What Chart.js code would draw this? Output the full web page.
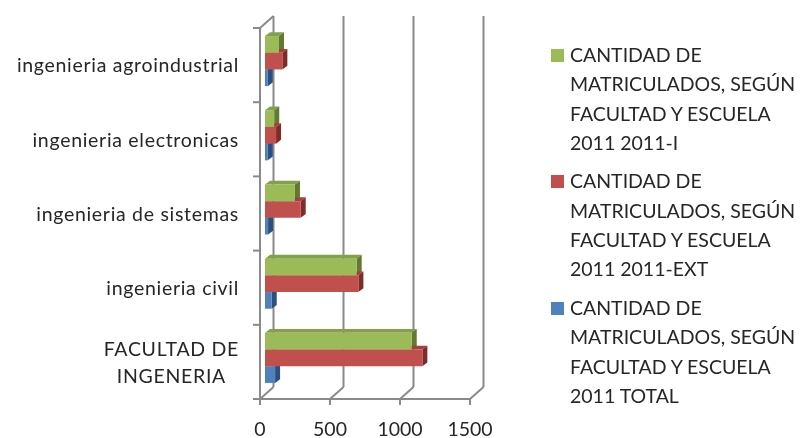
<!DOCTYPE html>
<html>
<head>
<meta charset="utf-8">
<script src="https://cdn.jsdelivr.net/npm/chart.js@4/dist/chart.umd.min.js"></script>
<style>
  html, body { margin: 0; padding: 0; background: #ffffff; }
  #wrap { position: relative; width: 801px; height: 438px; overflow: hidden; }
  #chart { position: absolute; left: 0; top: 0; }
  #legend { position: absolute; left: 551px; top: 40px; font-family: Lato, "Noto Sans", sans-serif;
            font-size: 19.5px; color: #262626; }
  .item { position: relative; padding-left: 19px; margin-bottom: 9.3px; }
  .sw { position: absolute; left: 0; top: 9px; width: 13px; height: 13px; }
  .ln { line-height: 29.3px; height: 29.3px; white-space: nowrap; }
</style>
</head>
<body>
<div id="wrap">
  <canvas id="chart" width="801" height="438"></canvas>
  <div id="legend"></div>
</div>
<script>
// Enrolment by faculty and school, 2011
const categories = [
  ['FACULTAD DE', 'INGENERIA'],
  'ingenieria civil',
  'ingenieria de sistemas',
  'ingenieria electronicas',
  'ingenieria agroindustrial'
];
const values2011I   = [1048, 655, 214, 66, 100];
const values2011EXT = [1124, 667, 255, 79, 124];
const valuesTotal   = [72, 48, 22, 20, 20];
const seriesNames = [
  ['CANTIDAD DE', 'MATRICULADOS, SEGÚN', 'FACULTAD Y ESCUELA', '2011 2011-I'],
  ['CANTIDAD DE', 'MATRICULADOS, SEGÚN', 'FACULTAD Y ESCUELA', '2011 2011-EXT'],
  ['CANTIDAD DE', 'MATRICULADOS, SEGÚN', 'FACULTAD Y ESCUELA', '2011 TOTAL']
];
const xTicks = [0, 500, 1000, 1500];

// face colours: front, top, side
const palette = [
  { front: '#9bbb59', top: '#83a149', side: '#62792f' },
  { front: '#c0504d', top: '#a3403d', side: '#7e2b29' },
  { front: '#4f81bd', top: '#3e6ba3', side: '#2b4f7e' }
];

const FONT = 'Lato, "Noto Sans", sans-serif';
const TEXT = '#262626';
const FRAME = '#8a8a8a';

// box depth (front edge -> back wall) and the slab the bars occupy inside it
const BOX = { dx: 13.5, dy: -12 };
const BAR_SHIFT = { dx: 5, dy: -4 };
const BAR_DEPTH = { dx: 5, dy: -3.8 };

function line(ctx, x1, y1, x2, y2) {
  ctx.beginPath();
  ctx.moveTo(x1, y1);
  ctx.lineTo(x2, y2);
  ctx.stroke();
}
function poly(ctx, pts, color) {
  ctx.beginPath();
  ctx.moveTo(pts[0][0], pts[0][1]);
  for (let i = 1; i < pts.length; i++) ctx.lineTo(pts[i][0], pts[i][1]);
  ctx.closePath();
  ctx.fillStyle = color;
  ctx.fill();
}

const box3d = {
  id: 'box3d',
  beforeDatasetsDraw(chart) {
    const { ctx, chartArea: a, scales } = chart;
    const xs = scales.x, ys = scales.y;
    ctx.save();
    ctx.strokeStyle = FRAME;
    ctx.lineWidth = 2;
    ctx.lineCap = 'butt';
    // back wall gridlines and floor edges
    xTicks.forEach(v => {
      const px = xs.getPixelForValue(v);
      line(ctx, px + BOX.dx, a.top + BOX.dy, px + BOX.dx, a.bottom + BOX.dy);
      line(ctx, px, a.bottom, px + BOX.dx, a.bottom + BOX.dy);
      line(ctx, px, a.bottom, px, a.bottom + 6);
    });
    // left wall
    line(ctx, a.left, a.top, a.left, a.bottom);
    line(ctx, a.left, a.top, a.left + BOX.dx, a.top + BOX.dy);
    // front floor edge
    line(ctx, a.left - 7, a.bottom, xs.getPixelForValue(xTicks[xTicks.length - 1]), a.bottom);
    // category separators on the left wall
    for (let i = 0; i <= categories.length; i++) {
      const py = ys.getPixelForValue(i - 0.5);
      line(ctx, a.left - 7, py, a.left, py);
    }
    // top and side faces of every bar
    chart.data.datasets.forEach((ds, di) => {
      const meta = chart.getDatasetMeta(di);
      const col = palette[di];
      meta.data.forEach(bar => {
        const p = bar.getProps(['x', 'y', 'base', 'height'], true);
        const l = Math.min(p.x, p.base) + BAR_SHIFT.dx;
        const r = Math.max(p.x, p.base) + BAR_SHIFT.dx;
        const t = p.y - p.height / 2 + BAR_SHIFT.dy;
        const b = p.y + p.height / 2 + BAR_SHIFT.dy;
        poly(ctx, [[l, t], [r, t], [r + BAR_DEPTH.dx, t + BAR_DEPTH.dy], [l + BAR_DEPTH.dx, t + BAR_DEPTH.dy]], col.top);
        poly(ctx, [[r, t], [r + BAR_DEPTH.dx, t + BAR_DEPTH.dy], [r + BAR_DEPTH.dx, b + BAR_DEPTH.dy], [r, b]], col.side);
      });
    });
    ctx.restore();
    // front faces are drawn by the bar controller, shifted into the slab
    ctx.save();
    ctx.translate(BAR_SHIFT.dx, BAR_SHIFT.dy);
  },
  afterDatasetsDraw(chart) {
    chart.ctx.restore();
  },
  afterDraw(chart) {
    const { ctx, chartArea: a, scales } = chart;
    const ys = scales.y;
    ctx.save();
    ctx.font = '19.5px ' + FONT;
    ctx.letterSpacing = '0.7px';
    ctx.fillStyle = TEXT;
    ctx.textBaseline = 'middle';
    const right = a.left - 21;
    categories.forEach((lab, i) => {
      const cy = ys.getPixelForValue(i) + 1;
      const lines = Array.isArray(lab) ? lab : [lab];
      const w = Math.max(...lines.map(s => ctx.measureText(s).width));
      const lh = 27;
      const y0 = cy - (lines.length - 1) * lh / 2;
      if (lines.length === 1) {
        ctx.textAlign = 'right';
        ctx.fillText(lines[0], right, cy);
      } else {
        ctx.textAlign = 'center';
        lines.forEach((s, k) => ctx.fillText(s, right - w / 2, y0 + k * lh));
      }
    });
    ctx.restore();
  }
};

const datasetValues = [values2011I, values2011EXT, valuesTotal];
const chart = new Chart(document.getElementById('chart'), {
  type: 'bar',
  data: {
    labels: categories,
    datasets: datasetValues.map((vals, i) => ({
      label: seriesNames[i].join(' '),
      data: vals,
      backgroundColor: palette[i].front,
      borderWidth: 0,
      categoryPercentage: 0.675,
      barPercentage: 1.0
    }))
  },
  options: {
    indexAxis: 'y',
    responsive: false,
    animation: false,
    layout: { padding: { left: 260, right: 331, top: 28, bottom: 0 } },
    plugins: { legend: { display: false }, tooltip: { enabled: false } },
    scales: {
      x: {
        min: 0, max: 1500,
        afterBuildTicks(scale) { scale.ticks = xTicks.map(v => ({ value: v })); },
        afterFit(scale) { scale.height = 39; },
        grid: { display: false, drawTicks: false },
        border: { display: false },
        ticks: {
          padding: 19, color: TEXT, font: { family: FONT, size: 19.5 }, maxRotation: 0,
          callback: v => String(v)
        }
      },
      y: {
        reverse: true,
        display: false,
        offset: true
      }
    }
  },
  plugins: [box3d]
});

// legend built from the series names
const legend = document.getElementById('legend');
seriesNames.forEach((lines, i) => {
  const item = document.createElement('div');
  item.className = 'item';
  const sw = document.createElement('span');
  sw.className = 'sw';
  sw.style.background = palette[i].front;
  item.appendChild(sw);
  lines.forEach(s => {
    const d = document.createElement('div');
    d.className = 'ln';
    d.textContent = s;
    item.appendChild(d);
  });
  legend.appendChild(item);
});
</script>
</body>
</html>
